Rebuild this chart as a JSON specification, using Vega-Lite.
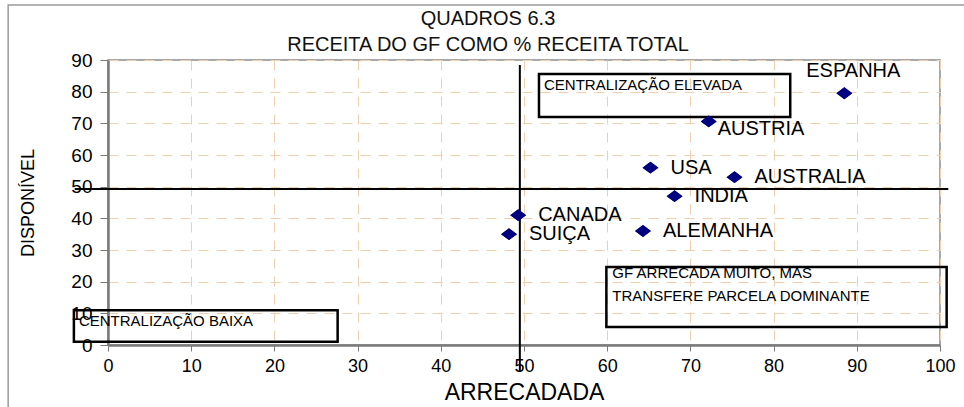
{
  "$schema": "https://vega.github.io/schema/vega-lite/v6.json",
  "width": 832,
  "height": 285,
  "autosize": {"type": "none"},
  "padding": {"left": 108, "top": 60, "right": 24, "bottom": 62},
  "background": "white",
  "config": {
    "font": "Liberation Sans",
    "view": {"stroke": "#8c8c8c", "strokeWidth": 1.5},
    "axis": {
      "grid": true,
      "gridColor": "#f0cfae",
      "gridDash": [10, 8],
      "gridWidth": 1,
      "domainColor": "#7a7a7a",
      "domainWidth": 2.5,
      "tickColor": "#7a7a7a",
      "labelColor": "#000",
      "titleColor": "#000",
      "titleFontWeight": "normal",
      "labelFont": "Liberation Sans",
      "titleFont": "Liberation Sans"
    },
    "axisX": {"labelFontSize": 18, "titleFontSize": 23, "tickSize": 6, "labelPadding": 6, "titlePadding": 6, "labelFlush": false},
    "axisY": {"labelFontSize": 19, "titleFontSize": 18, "tickSize": 8, "labelPadding": 8, "titlePadding": 33}
  },
  "title": {
    "text": ["QUADROS 6.3", "RECEITA DO GF COMO % RECEITA TOTAL"],
    "frame": "group",
    "fontSize": 20,
    "fontWeight": "normal",
    "font": "Liberation Sans",
    "color": "#111",
    "anchor": "middle",
    "baseline": "alphabetic",
    "dx": -36,
    "offset": -67,
    "lineHeight": 26
  },
  "datasets": {
    "points": [
      {"pais": "ESPANHA", "arrecadada": 88.5, "disponivel": 79.5},
      {"pais": "AUSTRIA", "arrecadada": 72.2, "disponivel": 70.6},
      {"pais": "USA", "arrecadada": 65.2, "disponivel": 56.0},
      {"pais": "AUSTRALIA", "arrecadada": 75.3, "disponivel": 53.0},
      {"pais": "INDIA", "arrecadada": 68.1, "disponivel": 47.0},
      {"pais": "CANADA", "arrecadada": 49.3, "disponivel": 41.0},
      {"pais": "SUIÇA", "arrecadada": 48.2, "disponivel": 35.0},
      {"pais": "ALEMANHA", "arrecadada": 64.3, "disponivel": 36.0}
    ],
    "boxes": [
      {"label": "CENTRALIZAÇÃO ELEVADA", "x1": 51.8, "x2": 82.0, "y1": 72.0, "y2": 85.6},
      {"label": "GF ARRECADA MUITO, MAS\nTRANSFERE PARCELA DOMINANTE", "x1": 59.9, "x2": 100.8, "y1": 5.7, "y2": 24.6},
      {"label": "CENTRALIZAÇÃO BAIXA", "x1": -4.1, "x2": 27.6, "y1": 1.0, "y2": 11.0}
    ],
    "lines": [
      {"x1": -4, "x2": 101, "y1": 49.3, "y2": 49.3},
      {"x1": 49.5, "x2": 49.5, "y1": 88.4, "y2": -8.5}
    ],
    "frame": [
      {"x1": -12, "x2": 104, "y1": -25, "y2": 107.4}
    ]
  },
  "layer": [
    {
      "data": {"name": "points"},
      "mark": {"type": "point", "shape": "M-1,0L0,-0.75L1,0L0,0.75Z", "filled": true, "color": "#000080", "opacity": 1, "size": 250},
      "encoding": {
        "x": {"field": "arrecadada", "type": "quantitative", "title": "ARRECADADA", "scale": {"domain": [0, 100], "nice": false, "zero": false}, "axis": {"values": [0, 10, 20, 30, 40, 50, 60, 70, 80, 90, 100], "tickCount": 20}},
        "y": {"field": "disponivel", "type": "quantitative", "title": "DISPONÍVEL", "scale": {"domain": [0, 90], "nice": false, "zero": false}, "axis": {"values": [0, 10, 20, 30, 40, 50, 60, 70, 80, 90], "tickCount": 20, "labelOverlap": false}}
      }
    },
    {
      "data": {"name": "frame"},
      "mark": {"type": "rect", "fill": null, "stroke": "#9a9a9a", "strokeWidth": 1.5, "clip": false},
      "encoding": {
        "x": {"field": "x1", "type": "quantitative", "title": "ARRECADADA"},
        "x2": {"field": "x2"},
        "y": {"field": "y1", "type": "quantitative", "title": "DISPONÍVEL"},
        "y2": {"field": "y2"}
      }
    },
    {
      "data": {"name": "boxes"},
      "mark": {"type": "rect", "fill": null, "stroke": "#000", "strokeWidth": 2.5, "clip": false},
      "encoding": {
        "x": {"field": "x1", "type": "quantitative", "title": "ARRECADADA"},
        "x2": {"field": "x2"},
        "y": {"field": "y1", "type": "quantitative", "title": "DISPONÍVEL"},
        "y2": {"field": "y2"}
      }
    },
    {
      "data": {"name": "boxes"},
      "transform": [{"filter": "datum.x1 < 55 || datum.x1 > 60.5"}],
      "mark": {"type": "text", "align": "left", "baseline": "middle", "dx": 5, "dy": 11, "fontSize": 15, "color": "#000", "clip": false},
      "encoding": {
        "x": {"field": "x1", "type": "quantitative", "title": "ARRECADADA"},
        "y": {"field": "y2", "type": "quantitative", "title": "DISPONÍVEL"},
        "text": {"field": "label"}
      }
    },
    {
      "data": {"name": "boxes"},
      "transform": [{"filter": "datum.x1 >= 55 && datum.x1 <= 60.5"}],
      "mark": {"type": "text", "align": "left", "baseline": "top", "dx": 6, "dy": -1, "fontSize": 15, "lineHeight": 23, "lineBreak": "\n", "color": "#000", "clip": false},
      "encoding": {
        "x": {"field": "x1", "type": "quantitative", "title": "ARRECADADA"},
        "y": {"field": "y2", "type": "quantitative", "title": "DISPONÍVEL"},
        "text": {"field": "label"}
      }
    },
    {
      "data": {"name": "lines"},
      "mark": {"type": "rule", "color": "#000", "strokeWidth": 2, "clip": false},
      "encoding": {
        "x": {"field": "x1", "type": "quantitative", "title": "ARRECADADA"},
        "x2": {"field": "x2"},
        "y": {"field": "y1", "type": "quantitative", "title": "DISPONÍVEL"},
        "y2": {"field": "y2"}
      }
    },
    {
      "data": {"name": "points"},
      "mark": {"type": "point", "shape": "M-1,0L0,-0.75L1,0L0,0.75Z", "filled": true, "color": "#000080", "opacity": 1, "size": 250},
      "encoding": {
        "x": {"field": "arrecadada", "type": "quantitative", "title": "ARRECADADA"},
        "y": {"field": "disponivel", "type": "quantitative", "title": "DISPONÍVEL"}
      }
    },
    {
      "data": {"name": "points"},
      "transform": [{"filter": "datum.pais != 'ESPANHA' && datum.pais != 'AUSTRIA'"}],
      "mark": {"type": "text", "align": "left", "baseline": "middle", "dx": 20, "fontSize": 20, "color": "#000"},
      "encoding": {
        "x": {"field": "arrecadada", "type": "quantitative", "title": "ARRECADADA"},
        "y": {"field": "disponivel", "type": "quantitative", "title": "DISPONÍVEL"},
        "text": {"field": "pais"}
      }
    },
    {
      "data": {"name": "points"},
      "transform": [{"filter": "datum.pais == 'ESPANHA'"}],
      "mark": {"type": "text", "align": "center", "baseline": "middle", "dx": 9, "dy": -22, "fontSize": 20, "color": "#000"},
      "encoding": {
        "x": {"field": "arrecadada", "type": "quantitative", "title": "ARRECADADA"},
        "y": {"field": "disponivel", "type": "quantitative", "title": "DISPONÍVEL"},
        "text": {"field": "pais"}
      }
    },
    {
      "data": {"name": "points"},
      "transform": [{"filter": "datum.pais == 'AUSTRIA'"}],
      "mark": {"type": "text", "align": "left", "baseline": "middle", "dx": 9, "dy": 8, "fontSize": 20, "color": "#000"},
      "encoding": {
        "x": {"field": "arrecadada", "type": "quantitative", "title": "ARRECADADA"},
        "y": {"field": "disponivel", "type": "quantitative", "title": "DISPONÍVEL"},
        "text": {"field": "pais"}
      }
    }
  ]
}
